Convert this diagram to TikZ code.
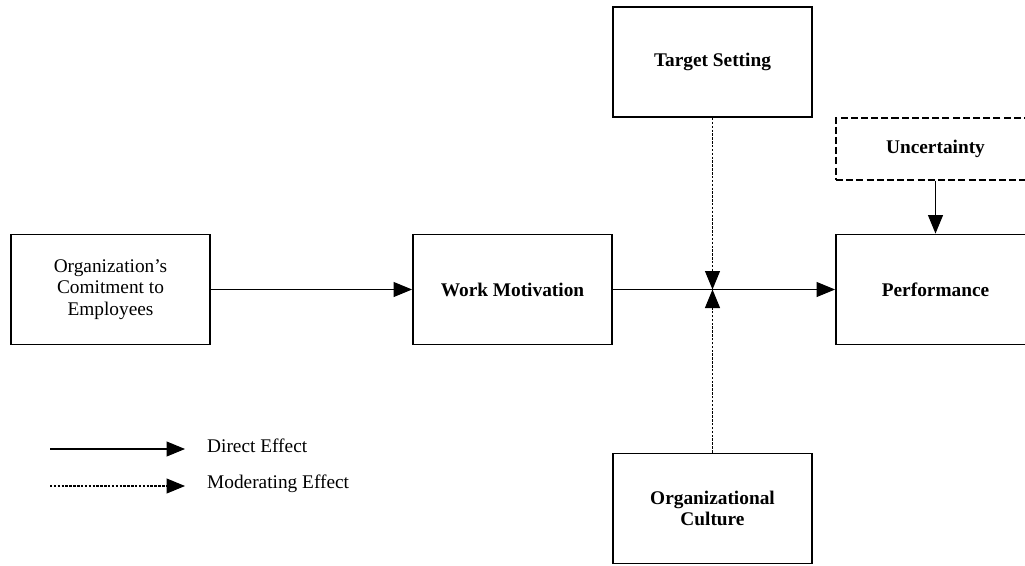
\documentclass[tikz,border=0pt]{standalone}
\usepackage{fontspec}
\setmainfont{Liberation Serif}
\usetikzlibrary{arrows.meta}
\begin{document}
\begin{tikzpicture}[x=0.02cm, y=-0.02cm,
    box/.style={draw, line width=1.1pt, minimum width=3.98cm, minimum height=2.2cm,
        align=center, font=\fontsize{11}{12.3}\selectfont\bfseries},
    effect/.style={line width=0.6pt, -{Triangle[length=0.37cm, width=0.3cm]}},
    moder/.style={effect, dash pattern=on 1.4pt off 0.8pt},
    legend/.style={anchor=west, font=\fontsize{11}{12.3}\selectfont}]
    \useasboundingbox (0,0) rectangle (1025,565);
    \node[box, font=\fontsize{11}{12.3}\selectfont] (commit) at (110.5,289.5) {Organization’s\\Comitment to\\Employees};
    \node[box] (motiv) at (512.5,289.5) {Work Motivation};
    \node[box] (perf) at (935.5,289.5) {Performance};
    \node[box] (target) at (712.5,62) {Target Setting};
    \node[box] (culture) at (712.5,508.5) {Organizational\\Culture};
    \node[box, minimum height=1.24cm, dash pattern=on 4pt off 1.8pt] (uncert) at (935.5,149) {Uncertainty};
    \draw[effect] (commit) -- (motiv);
    \draw[effect] (motiv) -- (perf);
    \draw[effect] (uncert) -- (perf);
    \draw[moder] (target) -- (target |- motiv);
    \draw[moder] (culture) -- (culture |- motiv);
    % legend
    \coordinate (direct0) at (50,449);
    \coordinate (direct1) at (185,449);
    \coordinate (moder0) at (50,486);
    \coordinate (moder1) at (185,486);
    \draw[effect] (direct0) -- (direct1);
    \draw[moder] (moder0) -- (moder1);
    \node[legend] (directlab) at (201,446) {Direct Effect};
    \node[legend] (moderlab) at (201,484) {Moderating Effect};
\end{tikzpicture}
\end{document}
